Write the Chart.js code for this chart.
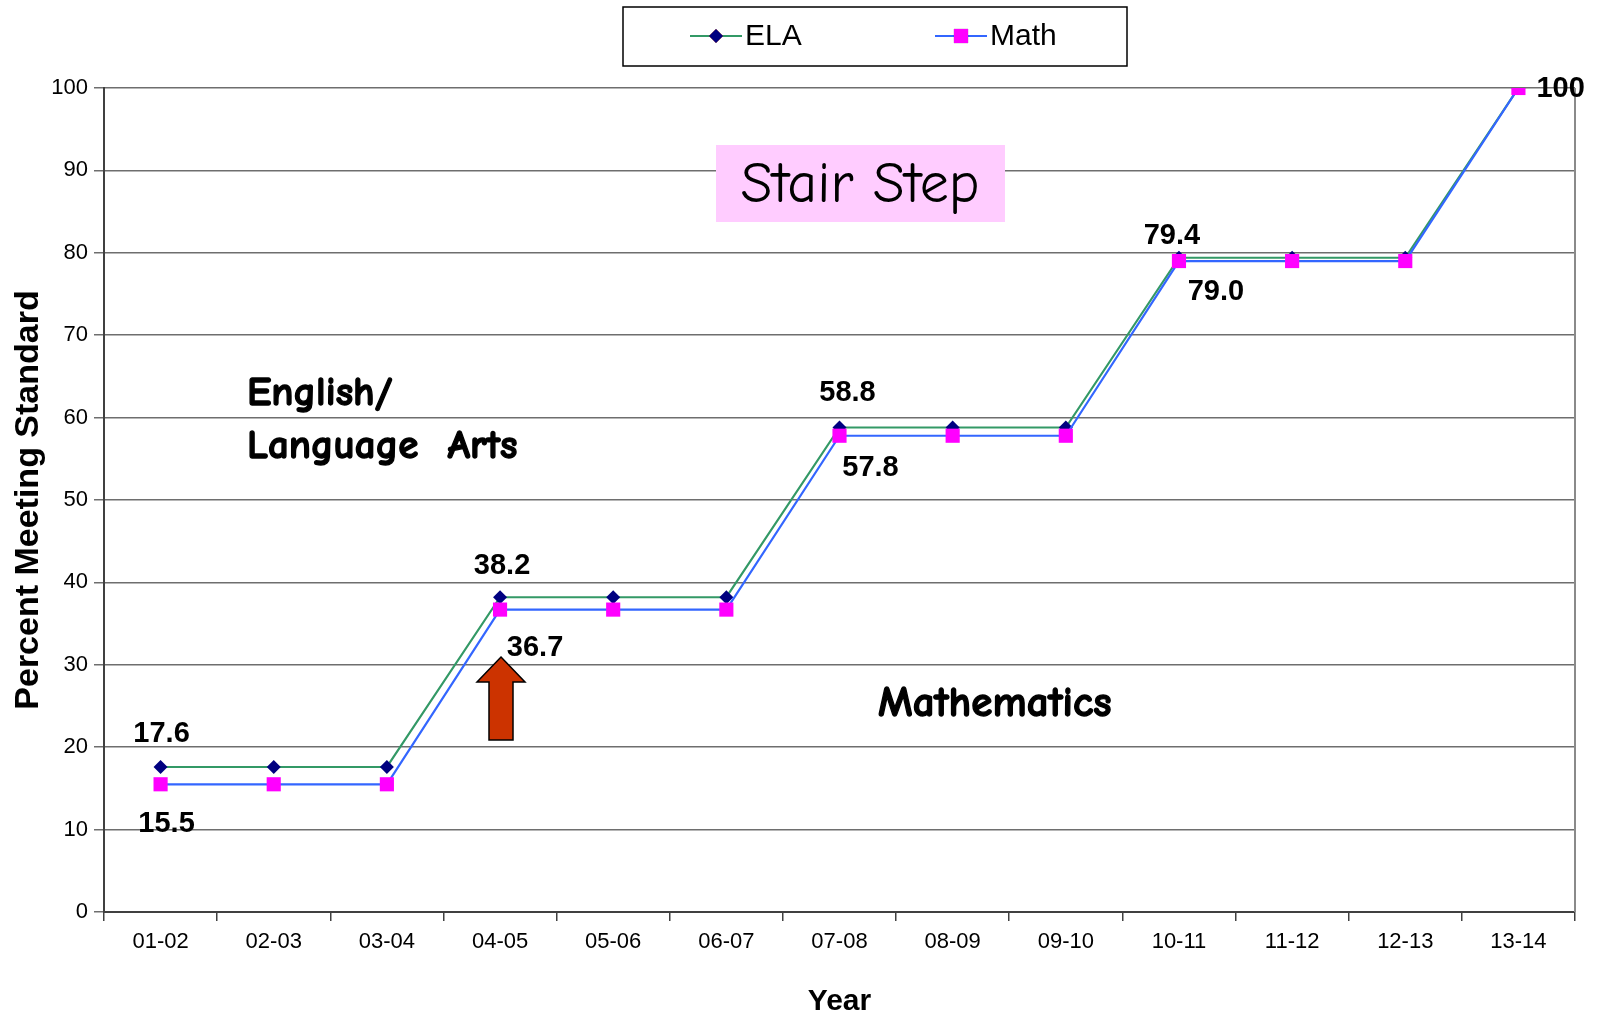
<!DOCTYPE html>
<html>
<head>
<meta charset="utf-8">
<script src="https://cdn.jsdelivr.net/npm/chart.js@4.4.1/dist/chart.umd.min.js"></script>
<style>
  html, body { margin: 0; padding: 0; background: #fff; }
  #wrap { position: relative; width: 1601px; height: 1020px; }
</style>
</head>
<body>
<div id="wrap"><canvas id="stairChart" width="1601" height="1020"></canvas></div>
<script>
// Chart data
const years = ['01-02', '02-03', '03-04', '04-05', '05-06', '06-07', '07-08', '08-09', '09-10', '10-11', '11-12', '12-13', '13-14'];
const elaValues = [17.6, 17.6, 17.6, 38.2, 38.2, 38.2, 58.8, 58.8, 58.8, 79.4, 79.4, 79.4, 100];
const mathValues = [15.5, 15.5, 15.5, 36.7, 36.7, 36.7, 57.8, 57.8, 57.8, 79.0, 79.0, 79.0, 100];
const yTicks = [0, 10, 20, 30, 40, 50, 60, 70, 80, 90, 100];

// Value labels: which point, what text
const elaLabels = [[0, '17.6'], [3, '38.2'], [6, '58.8'], [9, '79.4']];
const mathLabels = [[0, '15.5'], [3, '36.7'], [6, '57.8'], [9, '79.0'], [12, '100']];

// label offsets from their point (pixels)
const elaOffsets = [[1, -33], [2, -31], [8, -34], [-7, -22]];
const mathOffsets = [[6, 40], [35, 38], [31, 32], [37, 31], [18, 1]];

const FONT = "'Liberation Sans', Arial, sans-serif";
const COMIC = "'Comic Sans MS', 'Comic Neue', 'DejaVu Sans', sans-serif";

// fake bold for the note font
function boldText(ctx, t, x, y) {
  ctx.lineWidth = 1.3;
  ctx.strokeStyle = '#000';
  ctx.strokeText(t, x, y);
  ctx.fillText(t, x, y);
}

// Draws value labels, notes, arrow and legend box
const decorPlugin = {
  id: 'decor',
  afterDatasetsDraw(chart) {
    const ctx = chart.ctx;
    const x = chart.scales.x;
    const y = chart.scales.y;

    ctx.save();
    ctx.fillStyle = '#000';
    ctx.font = 'bold 29px ' + FONT;
    ctx.textAlign = 'center';
    ctx.textBaseline = 'middle';
    elaLabels.forEach(([i, t], k) => {
      ctx.fillText(t, x.getPixelForValue(i) + elaOffsets[k][0], y.getPixelForValue(elaValues[i]) + elaOffsets[k][1]);
    });
    mathLabels.forEach(([i, t], k) => {
      if (i === 12) ctx.textAlign = 'left';
      ctx.fillText(t, x.getPixelForValue(i) + mathOffsets[k][0], y.getPixelForValue(mathValues[i]) + mathOffsets[k][1]);
    });

    // Stair Step box
    ctx.fillStyle = '#FFCCFF';
    ctx.fillRect(716, 145, 289, 77);
    ctx.fillStyle = '#000';
    ctx.textAlign = 'center';
    ctx.font = '58px ' + COMIC;
    ctx.fillText('Stair Step', 860, 186);

    // Subject notes
    ctx.textAlign = 'left';
    ctx.font = 'bold 41px ' + COMIC;
    boldText(ctx, 'English/', 247, 393);
    boldText(ctx, 'Language  Arts', 247, 446);
    ctx.font = 'bold 43px ' + COMIC;
    boldText(ctx, 'Mathematics', 878, 704);

    // Up arrow
    ctx.beginPath();
    ctx.moveTo(501, 657);
    ctx.lineTo(525, 682);
    ctx.lineTo(513, 682);
    ctx.lineTo(513, 740);
    ctx.lineTo(489, 740);
    ctx.lineTo(489, 682);
    ctx.lineTo(477, 682);
    ctx.closePath();
    ctx.fillStyle = '#CC3300';
    ctx.fill();
    ctx.lineWidth = 1.5;
    ctx.strokeStyle = '#000';
    ctx.stroke();

    // Legend
    ctx.strokeStyle = '#000';
    ctx.lineWidth = 1.5;
    ctx.strokeRect(623, 7, 504, 59);
    const items = [
      { ds: chart.data.datasets[0], x0: 690 },
      { ds: chart.data.datasets[1], x0: 935 }
    ];
    items.forEach(({ ds, x0 }) => {
      ctx.strokeStyle = ds.borderColor;
      ctx.lineWidth = 2;
      ctx.beginPath();
      ctx.moveTo(x0, 36);
      ctx.lineTo(x0 + 52, 36);
      ctx.stroke();
      Chart.helpers.drawPoint(ctx, {
        pointStyle: ds.pointStyle,
        radius: ds.pointRadius,
        borderWidth: 0
      }, x0 + 26, 36);
      ctx.fillStyle = ds.pointBackgroundColor;
      ctx.fill();
      ctx.fillStyle = '#000';
      ctx.font = '30px ' + FONT;
      ctx.textAlign = 'left';
      ctx.fillText(ds.label, x0 + 55, 37);
    });
    ctx.restore();
  }
};

const chartCtx = document.getElementById('stairChart').getContext('2d');
new Chart(chartCtx, {
  type: 'line',
  data: {
    labels: years,
    datasets: [
      {
        label: 'ELA',
        data: elaValues,
        order: 2,
        borderColor: '#339966',
        borderWidth: 2.2,
        pointStyle: 'rectRot',
        pointRadius: 7,
        pointBackgroundColor: '#000080',
        pointBorderColor: '#000080',
        pointBorderWidth: 0,
        tension: 0
      },
      {
        label: 'Math',
        data: mathValues,
        order: 1,
        borderColor: '#3366FF',
        borderWidth: 2.2,
        pointStyle: 'rect',
        pointRadius: 10,
        pointBackgroundColor: '#FF00FF',
        pointBorderColor: '#FF00FF',
        pointBorderWidth: 0,
        tension: 0
      }
    ]
  },
  options: {
    responsive: false,
    animation: false,
    layout: { padding: { left: 0, right: 26, top: 88, bottom: 0 } },
    plugins: {
      legend: { display: false },
      tooltip: { enabled: false }
    },
    scales: {
      x: {
        offset: true,
        grid: {
          offset: true,
          drawOnChartArea: false,
          tickLength: 9,
          color: '#404040',
          lineWidth: 1.5
        },
        border: { color: '#404040', width: 2 },
        ticks: { color: '#000', font: { family: FONT, size: 22 }, padding: 8, maxRotation: 0 },
        title: {
          display: true,
          text: 'Year',
          color: '#000',
          font: { family: FONT, size: 30, weight: 'bold' },
          padding: { top: 4, bottom: 0 }
        },
        afterFit(scale) { scale.height = 108; }
      },
      y: {
        min: 0,
        max: 100,
        afterBuildTicks(scale) { scale.ticks = yTicks.map(v => ({ value: v })); },
        grid: {
          color: '#6e6e6e',
          lineWidth: 1.5,
          tickLength: 10
        },
        border: { color: '#404040', width: 2 },
        ticks: { color: '#000', font: { family: FONT, size: 22 }, padding: 6 },
        title: {
          display: true,
          text: 'Percent Meeting Standard',
          color: '#000',
          font: { family: FONT, size: 34, weight: 'bold' },
          padding: { top: 8, bottom: 0 }
        },
        afterFit(scale) { scale.width = 104; }
      }
    }
  },
  plugins: [decorPlugin, {
    id: 'plotBorder',
    beforeDatasetsDraw(chart) {
      const a = chart.chartArea;
      const c = chart.ctx;
      c.save();
      c.strokeStyle = '#8a8a8a';
      c.lineWidth = 2;
      c.beginPath();
      c.moveTo(a.right, a.top);
      c.lineTo(a.right, a.bottom);
      c.stroke();
      c.restore();
    }
  }]
});
</script>
</body>
</html>
